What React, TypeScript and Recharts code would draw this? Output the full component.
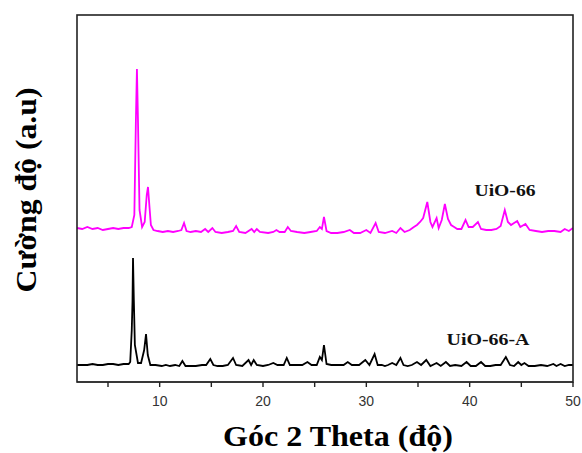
import React from 'react';
import { LineChart, Line, XAxis, YAxis } from 'recharts';

// 2θ positions and intensities (arb. units, offset already in the values)
const uioX = [
  2.0, 2.5, 3.0, 3.5, 4.0, 4.5, 5.0, 5.5, 6.0, 6.5, 7.0, 7.3, 7.55, 7.7, 7.8, 7.9, 8.05, 8.3, 8.55, 8.75,
  8.87, 9.0, 9.15, 9.4, 9.8, 10.3, 10.8, 11.3, 11.8, 12.1, 12.36, 12.6, 13.0, 13.5, 14.0, 14.4, 14.7, 15.1, 15.4, 16.0,
  16.6, 17.1, 17.4, 17.7, 18.3, 18.9, 19.15, 19.4, 19.7, 20.5, 21.0, 21.3, 21.6, 22.1, 22.4, 22.7, 23.3, 24.0, 24.6, 25.2,
  25.5, 25.7, 25.9, 26.15, 26.6, 27.2, 27.8, 28.4, 28.8, 29.4, 30.0, 30.4, 30.9, 31.2, 31.8, 32.5, 32.9, 33.3, 33.7, 34.2,
  34.6, 34.9, 35.2, 35.5, 35.9, 36.2, 36.4, 36.8, 37.0, 37.3, 37.6, 37.9, 38.2, 38.5, 38.8, 39.2, 39.6, 39.9, 40.3, 40.8,
  41.1, 41.6, 42.1, 42.6, 43.0, 43.4, 43.7, 44.0, 44.3, 44.6, 44.9, 45.4, 45.8, 46.4, 47.0, 47.6, 48.2, 48.8, 49.2, 49.6, 50.0,
];
const uioY = [
  154, 153, 155, 153, 154, 152, 153, 154, 153, 154, 154, 155, 167, 262, 313, 262, 172, 155, 160, 187,
  195, 177, 157, 152, 151, 150, 151, 150, 151, 152, 159, 151, 150, 151, 150, 153, 150, 154, 150, 149,
  150, 151, 156, 150, 149, 153, 150, 153, 150, 149, 150, 152, 150, 150, 155, 151, 150, 149, 150, 151,
  155, 153, 165, 151, 149, 149, 150, 152, 149, 149, 152, 149, 159, 150, 149, 151, 149, 154, 150, 152,
  155, 157, 160, 164, 180, 160, 155, 164, 154, 162, 178, 163, 157, 155, 153, 153, 162, 155, 155, 160,
  153, 152, 152, 153, 156, 172, 160, 157, 159, 161, 155, 158, 152, 151, 150, 151, 151, 150, 153, 151, 154,
];

const uioAX = [
  2.0, 2.5, 3.0, 3.5, 4.0, 4.5, 5.0, 5.5, 6.0, 6.5, 7.0, 7.15, 7.3, 7.37, 7.42, 7.5, 7.6, 7.9, 8.2, 8.5,
  8.68, 8.85, 9.1, 9.6, 10.2, 10.6, 11.0, 11.5, 11.9, 12.2, 12.5, 13.0, 13.5, 14.1, 14.5, 14.9, 15.2, 15.6, 16.1, 16.6,
  17.1, 17.4, 18.0, 18.6, 18.85, 19.1, 19.4, 20.0, 20.5, 21.0, 21.4, 22.0, 22.3, 22.6, 23.2, 23.8, 24.3, 24.7, 25.2, 25.5,
  25.7, 25.9, 26.15, 26.6, 27.2, 27.8, 28.2, 28.6, 29.3, 29.9, 30.3, 30.8, 31.1, 31.5, 31.8, 32.1, 32.5, 32.9, 33.3, 33.6,
  34.0, 34.4, 34.9, 35.3, 35.8, 36.2, 36.8, 37.2, 37.7, 38.1, 38.6, 39.2, 39.7, 40.1, 40.6, 41.1, 41.5, 42.0, 42.5, 43.0,
  43.5, 43.9, 44.3, 44.7, 45.0, 45.3, 45.7, 46.3, 46.9, 47.5, 48.1, 48.4, 48.8, 49.2, 49.6, 50.0,
];
const uioAY = [
  17, 17, 17, 18, 17, 17, 18, 18, 17, 18, 18, 20, 52, 80, 124, 82, 37, 19, 19, 32,
  48, 27, 17, 17, 16, 17, 16, 17, 16, 21, 16, 16, 16, 17, 17, 23, 17, 16, 16, 17,
  24, 17, 16, 22, 17, 22, 17, 16, 17, 19, 17, 17, 24, 17, 17, 17, 20, 17, 17, 25,
  22, 37, 18, 17, 17, 17, 20, 17, 17, 22, 17, 28, 17, 17, 16, 17, 19, 17, 24, 17,
  16, 17, 20, 17, 22, 16, 19, 16, 20, 16, 17, 16, 20, 16, 16, 20, 16, 16, 17, 17,
  25, 17, 16, 20, 17, 19, 16, 16, 17, 16, 18, 16, 18, 16, 17, 17,
];

const xTicks = [5, 10, 15, 20, 25, 30, 35, 40, 45, 50];

const uioData = uioX.map((x, i) => ({ x, y: uioY[i] }));
const uioAData = uioAX.map((x, i) => ({ x, y: uioAY[i] }));

const serif = '"Liberation Serif", "Times New Roman", serif';
const frame = '#222';

// plot box (matches the chart margins below)
const PL = 77;
const PT = 15;
const PW = 496;
const PH = 367;
const X_MIN = 2;
const X_MAX = 50;

export default function App() {
  return (
    <div style={{ position: 'absolute', left: 0, top: 0, width: 582, height: 453, background: '#fff' }}>
      <LineChart width={582} height={453} margin={{ top: PT, right: 582 - PL - PW, left: PL, bottom: 41 }}>
        <XAxis
          type="number"
          dataKey="x"
          domain={[X_MIN, X_MAX]}
          ticks={xTicks}
          interval={0}
          allowDataOverflow
          height={30}
          tickSize={5}
          tickMargin={9}
          tickLine={false}
          stroke={frame}
          tickFormatter={(v: number) => (v % 10 === 0 ? String(v) : '')}
          tick={{ fontSize: 14, fill: '#333', fontFamily: '"Liberation Sans", Arial, sans-serif' }}
        />
        <YAxis hide domain={[0, PH]} allowDataOverflow />
        <Line data={uioData} dataKey="y" type="linear" stroke="#ff00ff" strokeWidth={1.8} dot={false} isAnimationActive={false} />
        <Line data={uioAData} dataKey="y" type="linear" stroke="#000" strokeWidth={1.8} dot={false} isAnimationActive={false} />
      </LineChart>
      <svg width={582} height={453} style={{ position: 'absolute', left: 0, top: 0, pointerEvents: 'none' }}>
        <rect x={PL} y={PT} width={PW} height={PH} fill="none" stroke={frame} strokeWidth={1.6} />
        {xTicks.map((t) => {
          const x = PL + ((t - X_MIN) / (X_MAX - X_MIN)) * PW;
          return <line key={t} x1={x} x2={x} y1={PT + PH} y2={PT + PH + 5} stroke={frame} strokeWidth={1.4} />;
        })}
        <text x={36} y={190} transform="rotate(-90 36 190)" textAnchor="middle" fontFamily={serif} fontWeight="bold" fontSize={29} textLength={205} lengthAdjust="spacingAndGlyphs" fill="#000">
          Cường độ (a.u)
        </text>
        <text x={338} y={446} textAnchor="middle" fontFamily={serif} fontWeight="bold" fontSize={29} textLength={230} lengthAdjust="spacingAndGlyphs" fill="#000">
          Góc 2 Theta (độ)
        </text>
        <text x={505} y={196} textAnchor="middle" fontFamily={serif} fontWeight="bold" fontSize={17} textLength={61} lengthAdjust="spacingAndGlyphs" fill="#111">
          UiO-66
        </text>
        <text x={488} y={345} textAnchor="middle" fontFamily={serif} fontWeight="bold" fontSize={17} textLength={83} lengthAdjust="spacingAndGlyphs" fill="#111">
          UiO-66-A
        </text>
      </svg>
    </div>
  );
}
